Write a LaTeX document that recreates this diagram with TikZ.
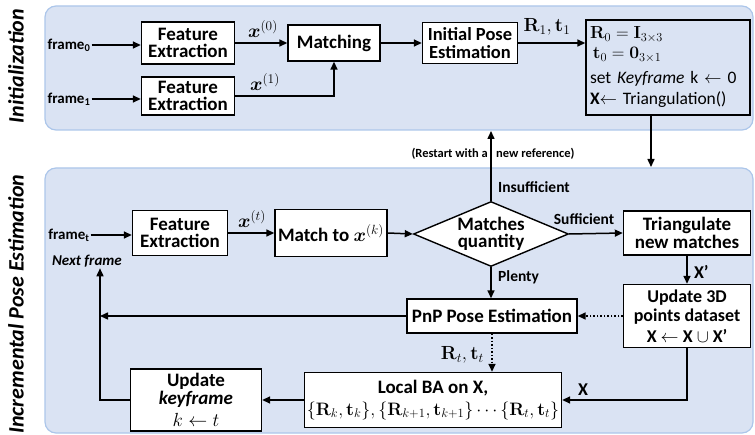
\RequirePackage{fix-cm}
\documentclass[tikz,border=0pt]{standalone}
\usepackage{amsmath}
\usepackage[no-math]{fontspec}
\setmainfont{Carlito}
\usetikzlibrary{arrows.meta,shapes.geometric,calc}

\definecolor{panelfill}{RGB}{218,227,243}
\definecolor{paneledge}{RGB}{172,198,234}

\begin{document}
\begin{tikzpicture}[x=1pt,y=-1pt,
  panel/.style={fill=panelfill,draw=paneledge,line width=1.2pt,rounded corners=11pt},
  box/.style={draw,line width=1.4pt,fill=white,align=center,inner sep=1pt,
    font=\fontsize{19}{17.5}\selectfont\bfseries},
  lbl/.style={inner sep=1pt,font=\fontsize{15.5}{15.5}\selectfont\bfseries},
  flbl/.style={inner sep=1pt,font=\fontsize{15}{15}\selectfont\bfseries},
  mlbl/.style={inner sep=1pt,font=\fontsize{19}{19}\selectfont},
  small/.style={inner sep=1pt,font=\fontsize{12.5}{12.5}\selectfont\bfseries},
  flow/.style={line width=1.5pt,-{Triangle[length=8pt,width=7pt]}},
  dflow/.style={flow,dotted},
  side/.style={rotate=90,font=\fontsize{22}{22}\selectfont\bfseries\itshape}]

\useasboundingbox (0,0) rectangle (755,435);

% background panels
\path[panel] (45,6) rectangle (753,130);
\path[panel] (45,168) rectangle (753,433);
\node[side] (tinit) at (16,66) {Initialization};
\node[side] (tinc) at (16,304) {Incremental Pose Estimation};

% ---- initialization ----
\node[flbl] (fr0) at (69,45) {frame\textsubscript{0}};
\node[flbl] (fr1) at (69,99) {frame\textsubscript{1}};
\node[box,minimum width=93pt,minimum height=42pt] (fe1) at (188,43) {Feature\\Extraction};
\node[box,minimum width=93pt,minimum height=38pt] (fe2) at (188,96) {Feature\\Extraction};
\node[box,minimum width=92pt,minimum height=36pt] (match) at (334,43) {Matching};
\node[box,minimum width=95pt,minimum height=41pt,font=\fontsize{18.5}{18.5}\selectfont\bfseries] (ipe) at (470,43) {Initial Pose\\Estimation};
\node[draw,line width=1.4pt,minimum width=164pt,minimum height=95pt,text width=156pt,
  align=left,inner sep=4pt,font=\fontsize{17.5}{19}\selectfont] (init) at (668,67.5)
  {$\mathbf{R}_0 = \mathbf{I}_{3\times3}$\\[1pt]
   \,$\mathbf{t}_0 = \mathbf{0}_{3\times1}$\\[6pt]
   set \textit{Keyframe} k $\leftarrow$ 0\\[2pt]
   \textbf{X}$\leftarrow$ Triangulation()};

\node[mlbl] (x0) at (263,29) {$\boldsymbol{x}^{(0)}$};
\node[mlbl] (x1) at (265,82) {$\boldsymbol{x}^{(1)}$};
\node[mlbl] (r1) at (547,27) {$\mathbf{R}_1,\mathbf{t}_1$};

\draw[flow] (fr0.east) -- (fr0.east -| fe1.west);
\draw[flow] (fr1.east) -- (fr1.east -| fe2.west);
\draw[flow] (fe1.east) -- (match.west);
\draw[flow] (fe2.east) -| (match.south);
\draw[flow] (match.east) -- (ipe.west);
\draw[flow] (ipe.east) -- (ipe.east -| init.west);

\coordinate (dn) at (651,167);
\draw[flow] (init.south -| dn) -- (dn);

% ---- incremental pose estimation ----
\node[flbl] (frt) at (69,235) {frame\textsubscript{t}};
\node[flbl,font=\fontsize{15}{15}\selectfont\bfseries\itshape] (nf) at (87,261) {Next frame};
\node[box,minimum width=95pt,minimum height=45pt] (fe3) at (180,233) {Feature\\Extraction};
\node[box,minimum width=112pt,minimum height=47pt] (m2x) at (331,233) {Match to $\boldsymbol{x}^{(k)}$};
\node[box,diamond,shape aspect=2.4,minimum width=155pt,minimum height=65pt,inner sep=0pt] (dia) at (491,234) {Matches\\quantity};
\node[box,minimum width=127pt,minimum height=44pt] (tri) at (687,233) {Triangulate\\new matches};
\node[box,minimum width=127pt,minimum height=63pt,font=\fontsize{18}{19.5}\selectfont\bfseries] (upd) at (687,316) {Update 3D\\points dataset\\[1.5pt]X $\leftarrow$ X $\cup$ X’};
\node[box,minimum width=170pt,minimum height=34pt] (pnp) at (492,316) {PnP Pose Estimation};
\node[box,minimum width=131pt,minimum height=62pt] (upk) at (196,400) {Update\\\textit{keyframe}\\[5pt]\mdseries$k \leftarrow t$};
\node[box,minimum width=257pt,minimum height=55pt] (lba) at (433,400)
  {Local BA on X,\\[4pt]\mdseries\fontsize{18}{18}\selectfont$\{\mathbf{R}_k,\mathbf{t}_k\},\{\mathbf{R}_{k+1},\mathbf{t}_{k+1}\}\cdots\{\mathbf{R}_t,\mathbf{t}_t\}$};

\node[mlbl] (xt) at (252,219) {$\boldsymbol{x}^{(t)}$};
\node[lbl,anchor=west] (ins) at (497,187) {Insufficient};
\node[lbl] (suf) at (584,219) {Sufficient};
\node[lbl,anchor=west] (pl) at (497,277) {Plenty};
\node[lbl,font=\fontsize{18}{18}\selectfont\bfseries,anchor=west] (xp) at (693,272) {X’};
\node[mlbl,anchor=east] (rt) at (485,355) {$\mathbf{R}_t,\mathbf{t}_t$};
\node[lbl,font=\fontsize{18}{18}\selectfont\bfseries] (xl) at (583,390) {X};
\node[small,anchor=east] (rs1) at (489,154) {(Restart with a};
\node[small,anchor=west] (rs2) at (495,154) {new reference)};

\coordinate (rs) at (491,131);
\coordinate (turn) at (100,400);

\draw[flow] (frt.east) -- (frt.east -| fe3.west);
\draw[flow] (fe3.east) -- (m2x.west);
\draw[flow] (m2x.east) -- (dia.west);
\draw[flow] (dia.east) -- (tri.west);
\draw[flow] (dia.north) -- (rs);
\draw[flow] (dia.south) -- (dia.south |- pnp.north);
\draw[flow] (tri.south) -- (upd.north);
\draw[dflow] (upd.west) -- (pnp.east);
\draw[flow] (pnp.west) -- (pnp.west -| turn);
\draw[dflow] (pnp.south) -- (pnp.south |- lba.north);
\draw[flow] (upd.south) |- (lba.east);
\draw[flow] (lba.west) -- (upk.east);
\draw[flow] (upk.west) -| (turn |- nf.south);

\end{tikzpicture}
\end{document}
